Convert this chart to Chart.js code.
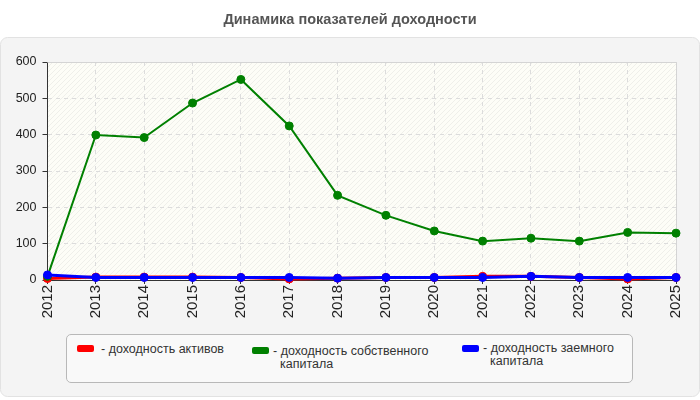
<!DOCTYPE html>
<html>
<head>
<meta charset="utf-8">
<script src="https://cdn.jsdelivr.net/npm/chart.js@4"></script>
<style>
  html, body { margin: 0; padding: 0; background: #ffffff; }
  #wrap { position: relative; width: 700px; height: 400px; font-family: "Liberation Sans", Arial, sans-serif; }
  #c { position: absolute; left: 0; top: 0; }
  #title { position: absolute; left: 0; top: 11px; width: 700px; text-align: center; font-weight: bold; font-size: 14.5px; color: #555; }
  #legend { position: absolute; left: 66px; top: 334px; width: 565px; height: 47px; border: 1px solid #b8b8b8; border-radius: 5px; background: #f9f9f9; }
  .sw { position: absolute; width: 17px; height: 7px; border-radius: 2px; }
  .lt { position: absolute; font-size: 12.5px; line-height: 13px; color: #333; white-space: nowrap; }
</style>
</head>
<body>
<div id="wrap">
  <canvas id="c" width="700" height="400"></canvas>
  <div id="title">Динамика показателей доходности</div>
  <div id="legend"></div>
</div>
<script>
const categories = ["2012","2013","2014","2015","2016","2017","2018","2019","2020","2021","2022","2023","2024","2025"];
const seriesNames = ["- доходность активов", "- доходность собственного капитала", "- доходность заемного капитала"];
const returnOnAssets = [4, 8, 8, 8, 7, 3, 5, 7, 7, 10, 10, 7, 3, 7];
const returnOnEquity = [10, 399, 392, 487, 552, 424, 233, 178, 135, 107, 115, 107, 131, 129];
const returnOnDebt = [14, 7, 7, 7, 7, 7, 5, 7, 7, 7, 10, 7, 7, 7];
const yTicks = [0, 100, 200, 300, 400, 500, 600];
const colors = ["#ff0000", "#008000", "#0000ff"];

// HTML legend
const legend = document.getElementById('legend');
const legendItems = [
  { sw: [10, 10], tx: [34, 8], text: "- доходность активов" },
  { sw: [185, 12], tx: [206, 10], text: "- доходность собственного<br>&nbsp;&nbsp;капитала" },
  { sw: [395, 10], tx: [416, 7], text: "- доходность заемного<br>&nbsp;&nbsp;капитала" }
];
legendItems.forEach((it, i) => {
  const s = document.createElement('div');
  s.className = 'sw';
  s.style.left = it.sw[0] + 'px'; s.style.top = it.sw[1] + 'px';
  s.style.background = colors[i];
  legend.appendChild(s);
  const t = document.createElement('div');
  t.className = 'lt';
  t.style.left = it.tx[0] + 'px'; t.style.top = it.tx[1] + 'px';
  t.innerHTML = it.text;
  legend.appendChild(t);
});

// hatch pattern
function makePattern(ctx) {
  const p = document.createElement('canvas');
  p.width = 5; p.height = 5;
  const pc = p.getContext('2d');
  pc.fillStyle = '#fdfdf7';
  pc.fillRect(0, 0, 5, 5);
  pc.strokeStyle = '#efefea';
  pc.lineWidth = 1;
  pc.beginPath();
  pc.moveTo(-1, 6); pc.lineTo(6, -1);
  pc.moveTo(-1, 1); pc.lineTo(1, -1);
  pc.moveTo(4, 6); pc.lineTo(6, 4);
  pc.stroke();
  return ctx.createPattern(p, 'repeat');
}

const bgPlugin = {
  id: 'bg',
  beforeDraw(chart) {
    const ctx = chart.ctx;
    ctx.save();
    ctx.fillStyle = '#f4f4f4';
    ctx.strokeStyle = '#e2e2e2';
    ctx.lineWidth = 1;
    ctx.beginPath();
    ctx.roundRect(0.5, 37.5, 699, 359, 7);
    ctx.fill();
    ctx.stroke();
    const a = chart.chartArea;
    ctx.fillStyle = makePattern(ctx);
    ctx.fillRect(a.left, a.top, a.right - a.left, a.bottom - a.top);
    ctx.restore();
  },
  beforeDatasetsDraw(chart) {
    const ctx = chart.ctx;
    const a = chart.chartArea;
    ctx.save();
    ctx.strokeStyle = '#d4d4d4';
    ctx.lineWidth = 1;
    ctx.beginPath();
    ctx.moveTo(a.left, Math.round(a.top) + 0.5);
    ctx.lineTo(Math.round(a.right) + 0.5, Math.round(a.top) + 0.5);
    ctx.lineTo(Math.round(a.right) + 0.5, a.bottom);
    ctx.stroke();
    ctx.restore();
  }
};

function ds(label, data, color, width, order) {
  return {
    label, data, order,
    borderColor: color, backgroundColor: color,
    borderWidth: width, pointRadius: 4, pointHoverRadius: 4,
    pointBackgroundColor: color, pointBorderColor: color, pointBorderWidth: 1,
    tension: 0, clip: false, fill: false
  };
}

new Chart(document.getElementById('c'), {
  type: 'line',
  data: {
    labels: categories,
    datasets: [
      ds(seriesNames[0], returnOnAssets, colors[0], 3, 3),
      ds(seriesNames[1], returnOnEquity, colors[1], 2, 2),
      ds(seriesNames[2], returnOnDebt, colors[2], 3, 1)
    ]
  },
  options: {
    responsive: false,
    animation: false,
    layout: { padding: { left: 0, right: 24, top: 62, bottom: 0 } },
    plugins: { legend: { display: false }, title: { display: false }, tooltip: { enabled: false } },
    scales: {
      x: {
        offset: false,
        grid: { color: '#dcdcdc', tickColor: '#333', tickLength: 4, tickBorderDash: [], drawTicks: true },
        border: { display: true, color: '#333', width: 1, dash: [4, 4] },
        ticks: {
          autoSkip: false, minRotation: 90, maxRotation: 90, padding: 1,
          color: '#222', font: { family: '"Liberation Sans", Arial, sans-serif', size: 15 }
        },
        afterFit(s) { s.height = 120; }
      },
      y: {
        min: 0, max: 600,
        afterBuildTicks(s) { s.ticks = yTicks.map(v => ({ value: v })); },
        grid: { color: '#dcdcdc', tickColor: '#333', tickLength: 5, tickBorderDash: [] },
        border: { display: true, color: '#333', width: 1, dash: [4, 4] },
        ticks: {
          padding: 6, color: '#222',
          font: { family: '"Liberation Sans", Arial, sans-serif', size: 12.5 }
        },
        afterFit(s) { s.width = 47.5; }
      }
    }
  },
  plugins: [bgPlugin]
});
</script>
</body>
</html>
